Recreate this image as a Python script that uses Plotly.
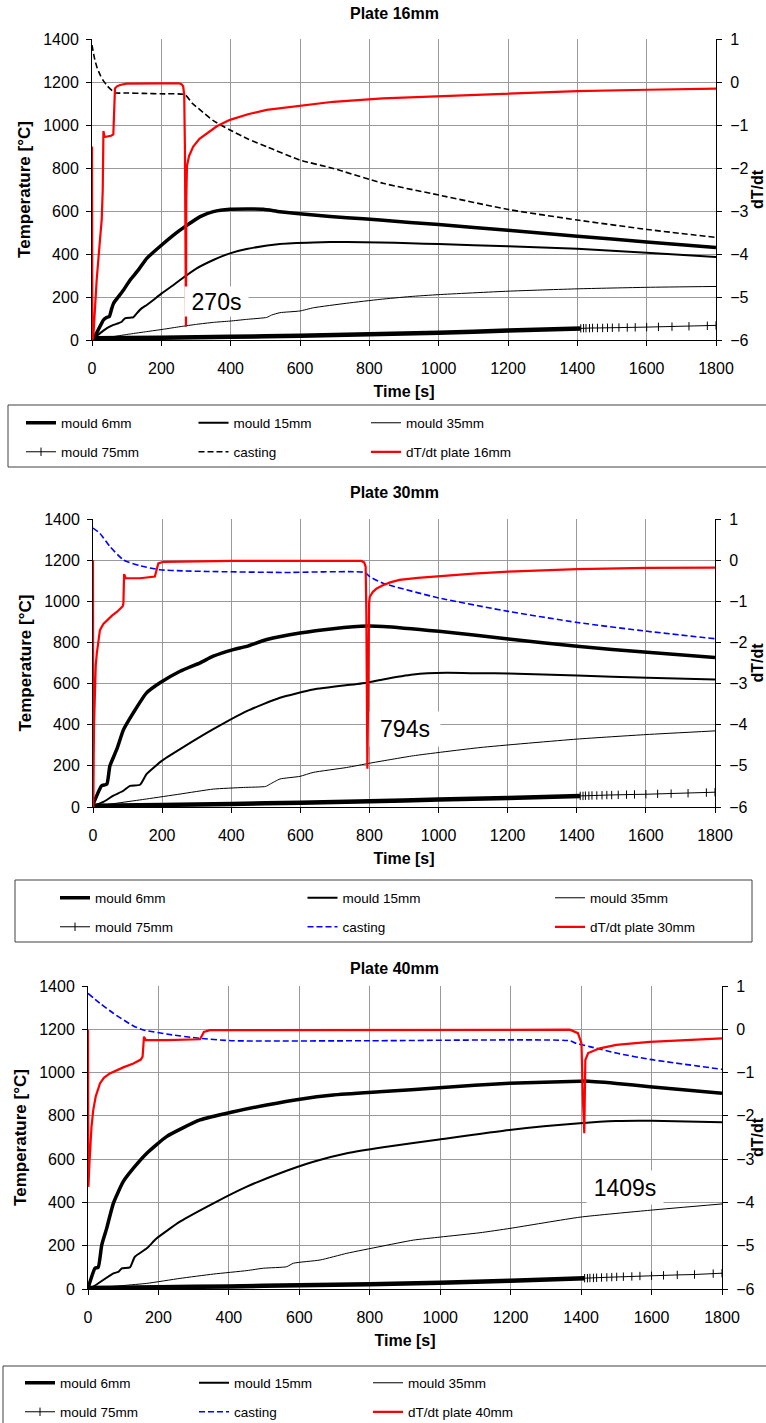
import plotly.graph_objects as go

W, H = 766, 1423

# ---------------- Plate 16mm ----------------
t16_m6 = [0, 4, 18, 33, 42, 50, 57, 62, 76, 91, 110, 134, 158, 201, 235, 268, 312, 350, 398, 446, 494, 542, 639, 735, 831, 917, 1000, 1200, 1400, 1600, 1800]
T16_m6 = [8, 8, 47, 93, 105, 109, 147, 170, 201, 233, 279, 326, 380, 442, 488, 527, 574, 597, 608, 609, 608, 597, 581, 569, 558, 547, 537, 510, 483, 456, 430]
t16_m15 = [0, 4, 23, 42, 62, 76, 86, 95, 110, 119, 129, 143, 158, 177, 201, 235, 254, 302, 350, 398, 446, 542, 639, 735, 831, 917, 1000, 1200, 1400, 1600, 1800]
T16_m15 = [3, 8, 31, 54, 70, 78, 85, 101, 104, 105, 124, 147, 163, 186, 217, 256, 279, 333, 372, 403, 423, 447, 454, 456, 454, 450, 446, 436, 424, 406, 386]
t16_m35 = [0, 23, 62, 110, 158, 206, 254, 302, 350, 398, 446, 504, 518, 542, 600, 639, 735, 831, 917, 1000, 1200, 1400, 1600, 1800]
T16_m35 = [3, 8, 16, 28, 39, 50, 62, 73, 82, 88, 96, 105, 116, 127, 135, 150, 171, 189, 202, 211, 227, 238, 245, 249]
t16_m75 = [0, 200, 400, 600, 800, 1000, 1200, 1410]
T16_m75 = [8, 11, 15, 20, 27, 34, 44, 54]
t_sparse = [1410, 1418, 1425, 1435, 1444, 1458, 1473, 1487, 1501, 1520, 1544, 1567, 1600, 1634, 1673, 1722, 1775, 1800]
T16_m75s = [54, 55, 55, 55, 56, 56, 56, 57, 57, 58, 58, 59, 60, 61, 62, 64, 66, 68]
t16_cast = [0, 3, 8, 15, 25, 33, 45, 66, 100, 150, 200, 268, 290, 312, 350, 398, 450, 504, 600, 696, 839, 1001, 1201, 1400, 1602, 1800]
T16_cast = [1372, 1345, 1305, 1265, 1228, 1205, 1180, 1150, 1149, 1147, 1145, 1141, 1100, 1070, 1020, 977, 935, 899, 837, 798, 729, 674, 607, 558, 514, 477]
t16_dT = [0, 1, 4, 13.5, 23, 28, 31, 33, 36, 45, 55, 61.5, 64, 66.3, 72, 81, 100, 150, 200, 250, 258, 263, 266, 268, 270, 271, 272, 274, 280, 292, 310, 331, 360, 398, 450, 504, 600, 696, 839, 1001, 1201, 1400, 1602, 1800]
V16_dT = [-1.5, -6.0, -5.9, -4.6, -3.67, -3.2, -2.5, -1.14, -1.28, -1.27, -1.25, -1.22, -0.7, -0.15, -0.1, -0.07, -0.04, -0.03, -0.03, -0.03, -0.05, -0.1, -0.3, -1.5, -4.5, -5.69, -2.7, -1.95, -1.72, -1.5, -1.32, -1.19, -1.03, -0.88, -0.75, -0.65, -0.55, -0.46, -0.38, -0.33, -0.26, -0.21, -0.18, -0.155]

# ---------------- Plate 30mm ----------------
t30_m6 = [0, 1, 25, 40, 49, 69, 88, 117, 155, 194, 252, 310, 348, 406, 445, 503, 599, 695, 794, 839, 1001, 1202, 1401, 1604, 1800]
T30_m6 = [8, 15, 103, 111, 200, 281, 375, 459, 555, 604, 660, 701, 733, 765, 781, 814, 846, 867, 880, 878, 854, 817, 781, 752, 727]
t30_m15 = [0, 30, 59, 88, 107, 136, 155, 199, 252, 348, 445, 541, 637, 792, 839, 927, 1023, 1120, 1202, 1401, 1604, 1800]
T30_m15 = [5, 25, 55, 79, 103, 108, 160, 224, 281, 378, 466, 531, 571, 604, 620, 644, 652, 650, 649, 639, 628, 620]
t30_m35 = [0, 14, 155, 252, 348, 435, 500, 512, 541, 599, 637, 734, 801, 927, 1120, 1400, 1600, 1800]
T30_m35 = [0, 5, 39, 63, 87, 95, 100, 111, 136, 149, 168, 192, 213, 249, 289, 330, 352, 370]
t30_m75 = [0, 200, 400, 600, 800, 1000, 1200, 1410]
T30_m75 = [6, 10, 15, 21, 28, 36, 44, 54]
T30_m75s = [54, 54, 55, 55, 56, 56, 57, 58, 58, 59, 60, 61, 62, 64, 65, 67, 70, 72]
t30_cast = [0, 20, 49, 88, 136, 194, 260, 330, 551, 787, 801, 839, 1001, 1202, 1401, 1604, 1800]
T30_cast = [1356, 1330, 1266, 1201, 1173, 1153, 1148, 1145, 1140, 1140, 1120, 1088, 1016, 951, 897, 854, 818]
t30_dT = [0, 1, 2, 3, 4, 6, 8, 11, 15, 20, 30, 40, 55, 69, 80, 86, 88, 90, 95, 136, 179, 184, 189, 204, 405, 777, 785, 789, 791, 794, 797, 799, 801, 810, 821, 839, 860, 887, 940, 1001, 1100, 1202, 1401, 1604, 1800]
V30_dT = [0.0, -6.0, -4.8, -4.0, -3.5, -2.92, -2.55, -2.27, -1.95, -1.70, -1.55, -1.46, -1.35, -1.26, -1.17, -1.12, -1.05, -0.34, -0.44, -0.44, -0.40, -0.2, -0.08, -0.04, -0.02, -0.02, -0.06, -0.16, -1.29, -5.07, -1.30, -1.05, -0.89, -0.77, -0.69, -0.61, -0.54, -0.48, -0.43, -0.39, -0.33, -0.28, -0.22, -0.19, -0.18]

# ---------------- Plate 40mm ----------------
t40_m6 = [0, 20, 29, 39, 53, 72, 100, 129, 167, 223, 318, 413, 507, 602, 696, 838, 997, 1197, 1396, 1410, 1500, 1595, 1800]
T40_m6 = [3, 96, 100, 203, 280, 396, 496, 558, 627, 704, 781, 819, 850, 877, 896, 912, 930, 951, 960, 961, 950, 935, 904]
t40_m15 = [0, 15, 72, 86, 96, 119, 133, 167, 195, 261, 356, 451, 545, 640, 735, 838, 997, 1197, 1396, 1500, 1600, 1800]
T40_m15 = [0, 11, 72, 79, 95, 100, 149, 188, 234, 311, 396, 473, 535, 588, 627, 655, 691, 735, 766, 776, 777, 770]
t40_m35 = [0, 10, 167, 261, 356, 451, 498, 564, 583, 659, 735, 829, 924, 1000, 1113, 1198, 1397, 1596, 1800]
T40_m35 = [0, 3, 26, 49, 69, 85, 96, 103, 119, 134, 165, 196, 226, 240, 260, 280, 332, 364, 393]
t40_m75 = [0, 200, 400, 600, 800, 1000, 1200, 1410]
T40_m75 = [5, 8, 12, 17, 22, 29, 38, 50]
T40_m75s = [50, 50, 51, 51, 52, 53, 54, 55, 56, 57, 58, 60, 61, 63, 65, 67, 71, 73]
t40_cast = [0, 34, 72, 129, 157, 223, 318, 413, 800, 1368, 1386, 1424, 1500, 1595, 1800]
T40_cast = [1366, 1320, 1274, 1215, 1197, 1178, 1158, 1147, 1147, 1147, 1135, 1120, 1090, 1061, 1015]
t40_dT = [0, 1, 2, 4, 6, 10, 15, 22, 34, 45, 62, 80, 100, 129, 150, 155, 157, 159, 164, 223, 318, 324, 329, 346, 838, 1368, 1391, 1401, 1405, 1409, 1412, 1420, 1453, 1500, 1595, 1800]
V40_dT = [-0.01, -3.64, -3.5, -3.1, -2.79, -2.25, -1.86, -1.55, -1.25, -1.12, -1.02, -0.95, -0.88, -0.79, -0.7, -0.63, -0.4, -0.17, -0.25, -0.25, -0.23, -0.12, -0.06, -0.02, -0.01, -0.01, -0.09, -0.32, -1.6, -2.40, -0.71, -0.55, -0.44, -0.36, -0.29, -0.21]

panel_titles = ["Plate 16mm", "Plate 30mm", "Plate 40mm"]
dT_names = ["dT/dt plate 16mm", "dT/dt plate 30mm", "dT/dt plate 40mm"]
notes = ["270s", "794s", "1409s"]
note_pos = [(358, 177), (903, 378), (1525, 467)]
note_size = [(63, 29), (70, 34), (76, 33)]
casting_colors = ["#000000", "#0000FF", "#0000FF"]

# geometry (pixels): plot left, right, top, bottom
boxes = [(92, 716, 39, 340), (93, 715, 519, 807), (88, 722, 986, 1289)]
title_y = [13, 492, 968]
legend_rows = [((423, 452), 21, 127.5), ((898, 927), 55, 202.5), ((1383, 1412), 20, 129)]
legend_frames = [(8, 772, 405, 467), (15, 752, 880, 942), (3, 772, 1366, 1432)]

panels = [
    (t16_m6, T16_m6, t16_m15, T16_m15, t16_m35, T16_m35, t16_m75, T16_m75, T16_m75s, t16_cast, T16_cast, t16_dT, V16_dT),
    (t30_m6, T30_m6, t30_m15, T30_m15, t30_m35, T30_m35, t30_m75, T30_m75, T30_m75s, t30_cast, T30_cast, t30_dT, V30_dT),
    (t40_m6, T40_m6, t40_m15, T40_m15, t40_m35, T40_m35, t40_m75, T40_m75, T40_m75s, t40_cast, T40_cast, t40_dT, V40_dT),
]

FONT = "Liberation Sans, Arial, sans-serif"
LEGFONT = "Liberation Sans Narrow, Arial Narrow, Liberation Sans, Arial, sans-serif"
GRID = "#9a9a9a"

fig = go.Figure()
layout = dict(
    width=W, height=H, margin=dict(l=0, r=0, t=0, b=0, autoexpand=False),
    paper_bgcolor="white", plot_bgcolor="white", showlegend=True,
    font=dict(family=FONT, size=16, color="black"),
    annotations=[], shapes=[],
)

SM = dict(shape="spline", smoothing=0.5)

for i, d in enumerate(panels):
    (tm6, Tm6, tm15, Tm15, tm35, Tm35, tm75, Tm75, Tm75s, tc, Tc, tdt, Vdt) = d
    xl, xr, yt, yb = boxes[i]
    xn = "x" if i == 0 else f"x{i+1}"
    yn = "y" if i == 0 else f"y{2*i+1}"
    y2n = f"y{2*i+2}"
    lega = "legend" if i == 0 else f"legend{2*i+1}"
    legb = f"legend{2*i+2}"
    grp = f"p{i}"

    fig.add_trace(go.Scatter(x=tm6, y=Tm6, name="mould 6mm", mode="lines",
                             line=dict(color="black", width=3.5, **SM), xaxis=xn, yaxis=yn, legend=lega))
    fig.add_trace(go.Scatter(x=tm15, y=Tm15, name="mould 15mm", mode="lines",
                             line=dict(color="black", width=2, **SM), xaxis=xn, yaxis=yn, legend=lega))
    fig.add_trace(go.Scatter(x=tm35, y=Tm35, name="mould 35mm", mode="lines",
                             line=dict(color="black", width=1, **SM), xaxis=xn, yaxis=yn, legend=lega))
    fig.add_trace(go.Scatter(x=tm75, y=Tm75, name="mould 75mm", mode="lines", showlegend=False,
                             legendgroup=grp + "m75", line=dict(color="black", width=4.5, **SM),
                             xaxis=xn, yaxis=yn, legend=legb))
    fig.add_trace(go.Scatter(x=t_sparse, y=Tm75s, name="mould 75mm", mode="lines+markers",
                             legendgroup=grp + "m75", line=dict(color="black", width=1),
                             marker=dict(symbol="line-ns", size=6, line=dict(color="black", width=1)),
                             xaxis=xn, yaxis=yn, legend=legb))
    fig.add_trace(go.Scatter(x=tc, y=Tc, name="casting", mode="lines",
                             line=dict(color=casting_colors[i], width=1.6, dash="6px,3px", **SM),
                             xaxis=xn, yaxis=yn, legend=legb))
    fig.add_trace(go.Scatter(x=tdt, y=Vdt, name=dT_names[i], mode="lines",
                             line=dict(color="#FF0000", width=2.2), xaxis=xn, yaxis=y2n, legend=legb))

    xdom = [xl / W, xr / W]
    ydom = [1 - yb / H, 1 - yt / H]
    xkey = "xaxis" if i == 0 else f"xaxis{i+1}"
    ykey = "yaxis" if i == 0 else f"yaxis{2*i+1}"
    y2key = f"yaxis{2*i+2}"
    common = dict(showline=True, linecolor="black", linewidth=1, ticks="outside", ticklen=5,
                  tickcolor="black", tickwidth=1, zeroline=False,
                  tickfont=dict(family=FONT, size=16, color="black"))
    layout[xkey] = dict(domain=xdom, anchor=yn, range=[0, 1800], tick0=0, dtick=200,
                        showgrid=True, gridcolor=GRID, gridwidth=1, ticklabelstandoff=9,
                        title=dict(text="Time [s]", standoff=9,
                                   font=dict(family=FONT, size=16, weight="bold")), **common)
    layout[ykey] = dict(domain=ydom, anchor=xn, range=[0, 1400], tick0=0, dtick=200,
                        showgrid=True, gridcolor=GRID, gridwidth=1, ticklabelstandoff=4,
                        title=dict(text="Temperature [°C]", standoff=8,
                                   font=dict(family=FONT, size=17, weight="bold")), **common)
    layout[y2key] = dict(domain=ydom, anchor=xn, overlaying=yn, side="right", range=[-6, 1],
                         tick0=0, dtick=1, showgrid=False, ticklabelstandoff=5,
                         title=dict(text="dT/dt", standoff=6,
                                    font=dict(family=FONT, size=16, weight="bold")), **common)

    # panel title
    layout["annotations"].append(dict(text=panel_titles[i], xref="paper", yref="paper",
                                      x=394 / W, y=1 - title_y[i] / H, xanchor="center",
                                      yanchor="middle", showarrow=False,
                                      font=dict(family=FONT, size=16, weight="bold")))
    # event annotation
    nx, ny = note_pos[i]
    nw, nh = note_size[i]
    layout["annotations"].append(dict(text=notes[i], xref=xn, yref=yn, x=nx, y=ny,
                                      xanchor="center", yanchor="middle", showarrow=False,
                                      bgcolor="white", borderpad=0, width=nw, height=nh,
                                      font=dict(family=FONT, size=23, color="black")))
    # legends (one per row)
    (ry1, ry2), lx, ew = legend_rows[i]
    for key, ry in ((lega, ry1), (legb, ry2)):
        layout[key] = dict(orientation="h", xref="paper", yref="paper", x=lx / W,
                           y=1 - ry / H, xanchor="left", yanchor="middle",
                           entrywidth=ew, entrywidthmode="pixels", bgcolor="rgba(0,0,0,0)",
                           borderwidth=0, traceorder="normal",
                           font=dict(family=LEGFONT, size=13.5, color="black"))
    fx0, fx1, fy0, fy1 = legend_frames[i]
    layout["shapes"].append(dict(type="rect", xref="paper", yref="paper",
                                 x0=fx0 / W, x1=fx1 / W, y0=1 - fy1 / H, y1=1 - fy0 / H,
                                 line=dict(color="#404040", width=1), fillcolor="rgba(0,0,0,0)"))

fig.update_layout(**layout)
fig.write_html("out.html")
